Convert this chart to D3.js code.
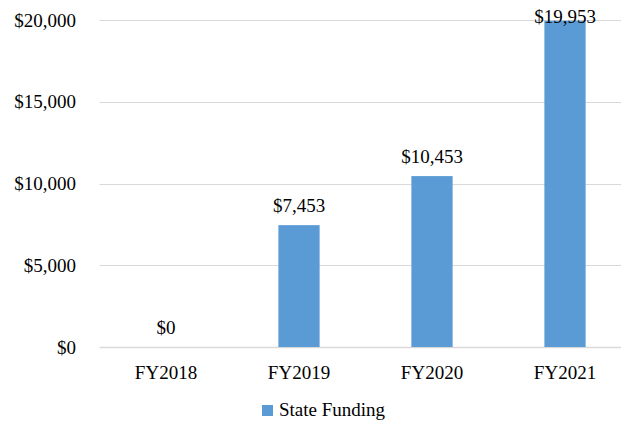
<!DOCTYPE html>
<html>
<head>
<meta charset="utf-8">
<script src="https://cdn.jsdelivr.net/npm/d3@7"></script>
<style>
  body { margin: 0; background: #fff; }
  text { font-family: "Liberation Serif", "DejaVu Serif", serif; fill: #000; }
</style>
</head>
<body>
<div id="chart"></div>
<script>
// chart values
var years = ["FY2018", "FY2019", "FY2020", "FY2021"];
var funding = [0, 7453, 10453, 19953];
var yTicks = [0, 5000, 10000, 15000, 20000];
var seriesName = "State Funding";

var width = 621, height = 424;
var margin = { top: 20, left: 99.5, right: -10.5, bottom: 77 };

var svg = d3.select("#chart").append("svg")
    .attr("width", width)
    .attr("height", height);

// Scales
var x = d3.scaleBand()
    .domain(years)
    .range([margin.left, width - margin.right])
    .paddingInner(0.69)
    .paddingOuter(0.345);

var y = d3.scaleLinear()
    .domain([0, 20000])
    .range([height - margin.bottom, margin.top]);

var money = d3.format("$,");

// gridlines
svg.append("g")
    .selectAll("line")
    .data(yTicks)
    .join("line")
    .attr("x1", margin.left)
    .attr("x2", width - margin.right)
    .attr("y1", function(d) { return Math.round(y(d)) + 0.5; })
    .attr("y2", function(d) { return Math.round(y(d)) + 0.5; })
    .attr("stroke", "#d9d9d9")
    .attr("stroke-width", function(d) { return d === 0 ? 1.5 : 1; });

// y axis labels
var yAxis = d3.axisLeft(y)
    .tickValues(yTicks)
    .tickFormat(money)
    .tickSize(0)
    .tickPadding(0);

svg.append("g")
    .attr("transform", "translate(76,0)")
    .call(yAxis)
    .call(function(g) { g.select(".domain").remove(); })
    .selectAll("text")
    .attr("font-size", 19)
    .attr("font-family", "Liberation Serif")
    .attr("fill", "#000");

// bars
svg.append("g")
    .selectAll("rect")
    .data(years)
    .join("rect")
    .attr("x", function(d) { return x(d); })
    .attr("width", x.bandwidth())
    .attr("y", function(d, i) { return y(funding[i]); })
    .attr("height", function(d, i) { return y(0) - y(funding[i]); })
    .attr("fill", "#5b9bd5");

// value labels (the tallest one is pushed inside the plot, like Excel does)
svg.append("g")
    .selectAll("text")
    .data(years)
    .join("text")
    .attr("x", function(d) { return x(d) + x.bandwidth() / 2; })
    .attr("y", function(d, i) { return Math.max(y(funding[i]) - 13, 23); })
    .attr("text-anchor", "middle")
    .attr("font-size", 19)
    .text(function(d, i) { return money(funding[i]); });

// x axis labels
var xAxis = d3.axisBottom(x)
    .tickSize(0)
    .tickPadding(0);

svg.append("g")
    .attr("transform", "translate(0," + (y(0) + 18) + ")")
    .call(xAxis)
    .call(function(g) { g.select(".domain").remove(); })
    .selectAll("text")
    .attr("font-size", 19)
    .attr("font-family", "Liberation Serif")
    .attr("fill", "#000");

// legend
var legend = svg.append("g")
    .attr("transform", "translate(262,405)");

legend.append("rect")
    .attr("width", 11)
    .attr("height", 11)
    .attr("fill", "#5b9bd5");

legend.append("text")
    .attr("x", 17)
    .attr("y", 11)
    .attr("font-size", 19)
    .text(seriesName);
</script>
</body>
</html>
